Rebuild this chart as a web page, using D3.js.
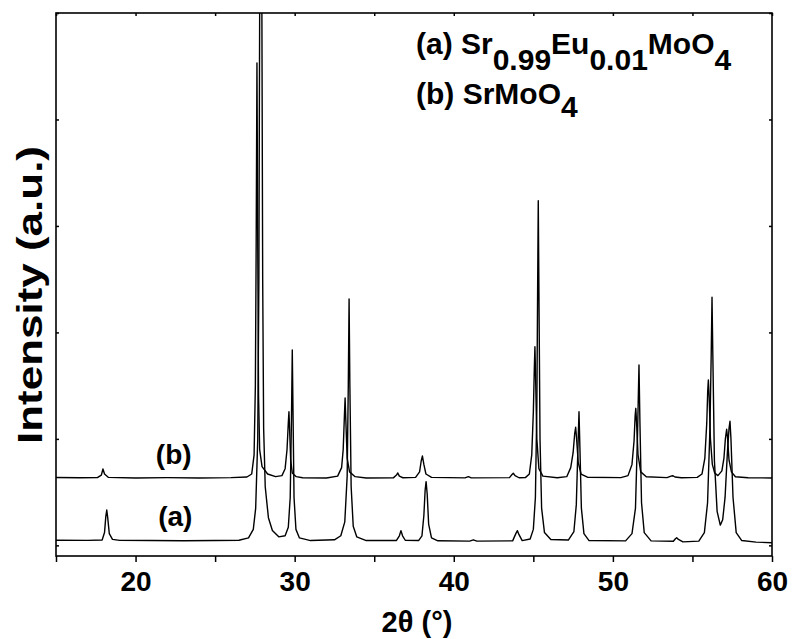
<!DOCTYPE html>
<html>
<head>
<meta charset="utf-8">
<script src="https://cdn.jsdelivr.net/npm/d3@7"></script>
<style>
  html, body { margin: 0; padding: 0; background: #fff; }
  svg { display: block; }
  text { font-family: "Liberation Sans", Arial, sans-serif; font-weight: bold; fill: #000; }
</style>
</head>
<body>
<svg id="chart" width="792" height="639"></svg>
<script>
// ---------- data ----------
// x axis: 2θ (degrees); y: intensity in arbitrary units
const xTicks = [15, 20, 25, 30, 35, 40, 45, 50, 55, 60];
const xTickLabels = ["", "20", "", "30", "", "40", "", "50", "", "60"];
const yTicks = [0, 10000, 20000, 30000, 40000, 50000];

// (b) SrMoO4 (upper trace)
const seriesB = [
  [15.0, 6380], [16.5, 6350], [17.6, 6360], [17.85, 6600], [17.95, 7170], [18.05, 6700], [18.3, 6380],
  [20.0, 6330], [22.0, 6360], [24.0, 6330], [26.0, 6360], [27.0, 6420], [27.3, 6700], [27.45, 8500],
  [27.53, 15000], [27.58, 28000], [27.63, 45300], [27.68, 28000], [27.73, 14000], [27.8, 9000],
  [27.95, 7400], [28.3, 6700], [28.8, 6450], [29.2, 6550], [29.4, 7200], [29.52, 9000], [29.6, 11500],
  [29.64, 12550], [29.68, 11000], [29.75, 8000], [29.85, 6800], [30.1, 6450], [30.5, 6350],
  [32.0, 6330], [32.7, 6500], [32.95, 7300], [33.05, 9000], [33.13, 12300], [33.17, 13840],
  [33.21, 12000], [33.3, 8200], [33.45, 6900], [33.8, 6450], [34.5, 6330], [36.2, 6340],
  [36.4, 6600], [36.48, 6800], [36.58, 6500], [36.8, 6350], [37.6, 6380], [37.85, 6900],
  [37.95, 7900], [38.03, 8390], [38.12, 7600], [38.25, 6700], [38.6, 6380], [40.7, 6340],
  [40.92, 6450], [41.1, 6340], [43.5, 6360], [43.66, 6650], [43.74, 6770], [43.85, 6550],
  [44.1, 6350], [44.5, 6360], [44.75, 6700], [44.9, 8500], [45.0, 12500], [45.06, 16500],
  [45.1, 18650], [45.14, 16000], [45.22, 10000], [45.35, 7200], [45.6, 6500], [46.5, 6350],
  [47.1, 6450], [47.35, 7300], [47.5, 8700], [47.6, 10500], [47.66, 11090], [47.72, 10000],
  [47.82, 7800], [48.0, 6700], [48.4, 6400], [50.5, 6360], [50.95, 6550], [51.2, 7600],
  [51.33, 9800], [51.4, 12200], [51.44, 12870], [51.49, 11500], [51.58, 8500], [51.75, 6900],
  [52.1, 6450], [53.4, 6360], [53.65, 6500], [53.76, 6540], [53.9, 6420], [54.3, 6350],
  [55.3, 6380], [55.6, 6700], [55.78, 8200], [55.9, 11500], [55.96, 14500], [56.0, 15530],
  [56.05, 14000], [56.13, 10000], [56.25, 7600], [56.4, 6800], [56.6, 6550], [56.85, 7000],
  [56.98, 8200], [57.07, 10000], [57.15, 10900], [57.2, 10200], [57.3, 8000], [57.45, 6900],
  [57.7, 6450], [58.5, 6350], [60.0, 6330]
];

// (a) Sr0.99Eu0.01MoO4 (lower trace)
const seriesA = [
  [15.0, 480], [17.0, 470], [17.9, 500], [18.05, 1200], [18.13, 2700], [18.19, 3320], [18.25, 2600],
  [18.35, 1100], [18.55, 560], [19.0, 470], [21.0, 450], [23.0, 430], [25.0, 460], [26.5, 480],
  [27.1, 700], [27.4, 1500], [27.55, 3500], [27.68, 10000], [27.75, 25000], [27.8, 50000],
  [27.87, 120000], [27.94, 50000], [27.99, 25000], [28.05, 11000], [28.15, 5500], [28.35, 2600],
  [28.6, 1400], [29.0, 800], [29.4, 900], [29.6, 1700], [29.72, 4500], [29.8, 12000],
  [29.85, 18350], [29.9, 12000], [29.96, 4500], [30.08, 1500], [30.3, 700], [31.0, 450],
  [32.5, 520], [32.9, 900], [33.15, 2200], [33.3, 6500], [33.37, 15000], [33.42, 23140],
  [33.47, 15000], [33.55, 5500], [33.68, 1800], [33.9, 800], [34.5, 450], [36.4, 460],
  [36.58, 900], [36.68, 1380], [36.78, 900], [36.95, 480], [37.8, 460], [38.0, 900],
  [38.12, 2800], [38.2, 5200], [38.26, 5980], [38.33, 4800], [38.42, 2000], [38.6, 700],
  [39.0, 430], [41.0, 400], [41.23, 520], [41.45, 400], [43.7, 420], [43.9, 1100], [44.0, 1380],
  [44.1, 1000], [44.3, 450], [44.8, 600], [45.0, 1500], [45.13, 4500], [45.22, 13000],
  [45.27, 24000], [45.31, 32370], [45.36, 22000], [45.42, 10000], [45.52, 3500], [45.7, 1200],
  [46.1, 550], [47.2, 500], [47.55, 1300], [47.7, 3800], [47.8, 9000], [47.87, 12550],
  [47.93, 9000], [48.02, 3500], [48.18, 1100], [48.5, 450], [50.8, 420], [51.2, 1100],
  [51.42, 3500], [51.55, 10500], [51.64, 16940], [51.7, 11500], [51.8, 4000], [51.97, 1200],
  [52.4, 420], [53.8, 380], [53.93, 620], [54.01, 720], [54.12, 560], [54.4, 330], [55.4, 400],
  [55.75, 1200], [55.95, 4000], [56.1, 11000], [56.18, 18000], [56.23, 23300], [56.28, 18000],
  [56.38, 8000], [56.55, 3200], [56.75, 1900], [56.9, 2400], [57.05, 4500], [57.2, 8800],
  [57.3, 11000], [57.36, 11650], [57.42, 10000], [57.55, 4500], [57.75, 1200], [58.1, 450],
  [59.0, 300], [60.0, 250]
];

const traceLabels = ["(b)", "(a)"];
const traceLabelPos = [[22.4, 7650], [22.5, 1830]]; // [2θ, intensity] anchor (baseline) of the in-plot labels

// ---------- layout ----------
const svg = d3.select("#chart");
const L = 56, R = 772, T = 13, B = 556;
const x = d3.scaleLinear().domain([15, 60]).range([L, R]);
const y = d3.scaleLinear().domain([-1000, 50000]).range([B, T]);

svg.append("defs").append("clipPath").attr("id", "plotclip")
  .append("rect").attr("x", L).attr("y", T).attr("width", R - L).attr("height", B - T);

const line = d3.line().x(d => x(d[0])).y(d => y(d[1]));

const plot = svg.append("g").attr("clip-path", "url(#plotclip)");
[seriesB, seriesA].forEach(s => {
  plot.append("path").datum(s).attr("d", line)
    .attr("fill", "none").attr("stroke", "#000").attr("stroke-width", 1.4)
    .attr("stroke-linejoin", "round");
});

// axes
const fmt = d => xTickLabels[xTicks.indexOf(d)];
const gx = svg.append("g").attr("transform", `translate(0,${B})`)
  .call(d3.axisBottom(x).tickValues(xTicks).tickFormat(fmt).tickSize(6).tickPadding(9));
const gxt = svg.append("g").attr("transform", `translate(0,${T})`)
  .call(d3.axisTop(x).tickValues(xTicks).tickFormat("").tickSize(-3));
const gyl = svg.append("g").attr("transform", `translate(${L},0)`)
  .call(d3.axisLeft(y).tickValues(yTicks).tickFormat("").tickSize(-3));
const gyr = svg.append("g").attr("transform", `translate(${R},0)`)
  .call(d3.axisRight(y).tickValues(yTicks).tickFormat("").tickSize(-3));

[gx, gxt, gyl, gyr].forEach(g => {
  g.select(".domain").remove();
  g.selectAll(".tick line").attr("stroke", "#000").attr("stroke-width", 1.5);
});
gx.selectAll(".tick text")
  .attr("font-size", 28).attr("font-family", "Liberation Sans, Arial, sans-serif")
  .attr("font-weight", "bold").attr("fill", "#000");

// frame
svg.append("rect").attr("x", L).attr("y", T).attr("width", R - L).attr("height", B - T)
  .attr("fill", "none").attr("stroke", "#000").attr("stroke-width", 1.6);

// axis titles
svg.append("text").attr("x", (L + R) / 2 + 3).attr("y", 632).attr("text-anchor", "middle")
  .attr("font-size", 29).text("2θ (°)");

svg.append("text").attr("transform", "translate(42,295) rotate(-90)")
  .attr("text-anchor", "middle").attr("font-size", 35)
  .attr("textLength", 298).attr("lengthAdjust", "spacingAndGlyphs")
  .text("Intensity (a.u.)");

// in-plot trace labels
traceLabels.forEach((t, i) => {
  svg.append("text").attr("x", x(traceLabelPos[i][0])).attr("y", y(traceLabelPos[i][1]))
    .attr("font-size", 28).attr("text-anchor", "middle").text(t);
});

// legend
const leg1 = svg.append("text").attr("x", 416).attr("y", 54).attr("font-size", 30);
leg1.append("tspan").text("(a) Sr");
leg1.append("tspan").attr("dy", 16).text("0.99");
leg1.append("tspan").attr("dy", -16).text("Eu");
leg1.append("tspan").attr("dy", 16).text("0.01");
leg1.append("tspan").attr("dy", -16).text("MoO");
leg1.append("tspan").attr("dy", 16).text("4");

const leg2 = svg.append("text").attr("x", 416).attr("y", 104).attr("font-size", 30);
leg2.append("tspan").text("(b) SrMoO");
leg2.append("tspan").attr("dy", 13).text("4");
</script>
</body>
</html>
